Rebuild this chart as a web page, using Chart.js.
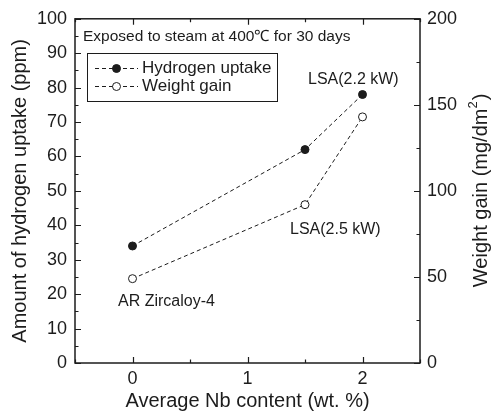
<!DOCTYPE html>
<html>
<head>
<meta charset="utf-8">
<script src="https://cdn.jsdelivr.net/npm/chart.js@4/dist/chart.umd.min.js"></script>
<style>
  html, body { margin: 0; padding: 0; background: #fff; }
  #wrap { width: 494px; height: 415px; }
</style>
</head>
<body>
<div id="wrap"><canvas id="nbChart" width="494" height="415"></canvas></div>
<script>
// Nb content (wt.%) of the samples
const nbContent = [0, 1.5, 2];
// hydrogen uptake, ppm (left axis)
const hydrogenUptake = [34, 62, 78];
// weight gain, mg/dm2 (right axis)
const weightGain = [49, 92, 143];
const seriesNames = ["Hydrogen uptake", "Weight gain"];
const sampleNames = ["AR Zircaloy-4", "LSA(2.5 kW)", "LSA(2.2 kW)"];

const FONT = "'Liberation Sans', Arial, Helvetica, sans-serif";
const INK = "#1c1c1c";

// frame, inward ticks, legend box, notes and right axis title
const decorations = {
  id: "decorations",
  afterDraw(chart) {
    const ctx = chart.ctx;
    const {left, right, top, bottom} = chart.chartArea;
    const sx = chart.scales.x, sy = chart.scales.y, sy2 = chart.scales.y2;
    ctx.save();
    ctx.strokeStyle = INK;
    ctx.lineWidth = 1.5;
    ctx.strokeRect(left, top, right - left, bottom - top);

    ctx.lineWidth = 1.2;
    ctx.beginPath();
    for (let v = -0.5; v <= 2.5001; v += 0.5) {
      const px = Math.round(sx.getPixelForValue(v)) + 0.5;
      const len = Number.isInteger(v) ? 6 : 3.5;
      ctx.moveTo(px, bottom); ctx.lineTo(px, bottom - len);
      ctx.moveTo(px, top); ctx.lineTo(px, top + len);
    }
    for (let v = 0; v <= 100; v += 5) {
      const py = Math.round(sy.getPixelForValue(v)) + 0.5;
      const len = v % 10 === 0 ? 6 : 3.5;
      ctx.moveTo(left, py); ctx.lineTo(left + len, py);
    }
    for (let v = 0; v <= 200; v += 25) {
      const py = Math.round(sy2.getPixelForValue(v)) + 0.5;
      const len = v % 50 === 0 ? 6 : 3.5;
      ctx.moveTo(right, py); ctx.lineTo(right - len, py);
    }
    ctx.stroke();

    // legend
    ctx.lineWidth = 1;
    ctx.strokeRect(87.5, 53.5, 190, 48);
    const rows = [{y: 68, filled: true}, {y: 86, filled: false}];
    rows.forEach((r, i) => {
      ctx.setLineDash([4, 3]);
      ctx.beginPath();
      ctx.moveTo(95, r.y + 0.5); ctx.lineTo(138, r.y + 0.5);
      ctx.stroke();
      ctx.setLineDash([]);
      ctx.beginPath();
      ctx.arc(116.5, r.y + 0.5, 4, 0, Math.PI * 2);
      ctx.fillStyle = r.filled ? INK : "#fff";
      ctx.fill();
      ctx.stroke();
      ctx.fillStyle = INK;
      ctx.font = "17px " + FONT;
      ctx.textAlign = "left";
      ctx.textBaseline = "middle";
      ctx.fillText(seriesNames[i], 142, r.y + 0.5);
    });

    // notes
    ctx.fillStyle = INK;
    ctx.textBaseline = "alphabetic";
    ctx.font = "15.5px " + FONT;
    ctx.fillText("Exposed to steam at 400\u2103 for 30 days", 83, 41);
    ctx.font = "16px " + FONT;
    ctx.fillText(sampleNames[2], 308, 84);
    ctx.fillText(sampleNames[1], 290, 234);
    ctx.fillText(sampleNames[0], 118, 306);

    // right axis title, reading bottom to top
    ctx.translate(481, (top + bottom) / 2);
    ctx.rotate(-Math.PI / 2);
    ctx.textBaseline = "middle";
    const main = "Weight gain (mg/dm";
    ctx.font = "20px " + FONT;
    const wMain = ctx.measureText(main).width;
    ctx.font = "13px " + FONT;
    const wSup = ctx.measureText("2").width;
    ctx.font = "20px " + FONT;
    const wEnd = ctx.measureText(")").width;
    let x0 = -(wMain + wSup + wEnd) / 2;
    ctx.textAlign = "left";
    ctx.fillText(main, x0, 0);
    ctx.font = "13px " + FONT;
    ctx.fillText("2", x0 + wMain, -8);
    ctx.font = "20px " + FONT;
    ctx.fillText(")", x0 + wMain + wSup + 1, 0);
    ctx.restore();
  }
};

function makeChart() {
  const toPoints = (ys) => nbContent.map((x, i) => ({x: x, y: ys[i]}));
  new Chart(document.getElementById("nbChart"), {
    type: "line",
    data: {
      datasets: [
        {
          label: seriesNames[0],
          data: toPoints(hydrogenUptake),
          yAxisID: "y",
          borderColor: INK,
          borderWidth: 1,
          borderDash: [4, 3],
          pointRadius: 4,
          pointBackgroundColor: INK,
          pointBorderColor: INK,
          pointBorderWidth: 1
        },
        {
          label: seriesNames[1],
          data: toPoints(weightGain),
          yAxisID: "y2",
          borderColor: INK,
          borderWidth: 1,
          borderDash: [4, 3],
          pointRadius: 4,
          pointBackgroundColor: "#fff",
          pointBorderColor: INK,
          pointBorderWidth: 1
        }
      ]
    },
    options: {
      responsive: false,
      animation: false,
      layout: {padding: {top: 17, left: 0, right: 0, bottom: 0}},
      plugins: {legend: {display: false}, tooltip: {enabled: false}},
      scales: {
        x: {
          type: "linear",
          min: -0.5,
          max: 2.5,
          afterFit(s) { s.height = 52; },
          afterBuildTicks(s) { s.ticks = [0, 1, 2].map(v => ({value: v})); },
          grid: {display: false, drawTicks: false},
          border: {display: false},
          ticks: {color: INK, font: {family: FONT, size: 18}, padding: 5},
          title: {display: true, text: "Average Nb content (wt. %)", color: INK,
                  font: {family: FONT, size: 20}, padding: {top: 0, bottom: 2}}
        },
        y: {
          position: "left",
          min: 0,
          max: 100,
          afterFit(s) { s.width = 75; },
          grid: {display: false, drawTicks: false},
          border: {display: false},
          ticks: {stepSize: 10, color: INK, font: {family: FONT, size: 18}, padding: 8},
          title: {display: true, text: "Amount of hydrogen uptake (ppm)", color: INK,
                  font: {family: FONT, size: 20}, padding: {top: 8, bottom: 0}}
        },
        y2: {
          position: "right",
          min: 0,
          max: 200,
          afterFit(s) { s.width = 74; },
          grid: {display: false, drawTicks: false},
          border: {display: false},
          ticks: {stepSize: 50, color: INK, font: {family: FONT, size: 18}, padding: 7}
        }
      }
    },
    plugins: [decorations]
  });
}

window.onload = makeChart;
</script>
</body>
</html>
